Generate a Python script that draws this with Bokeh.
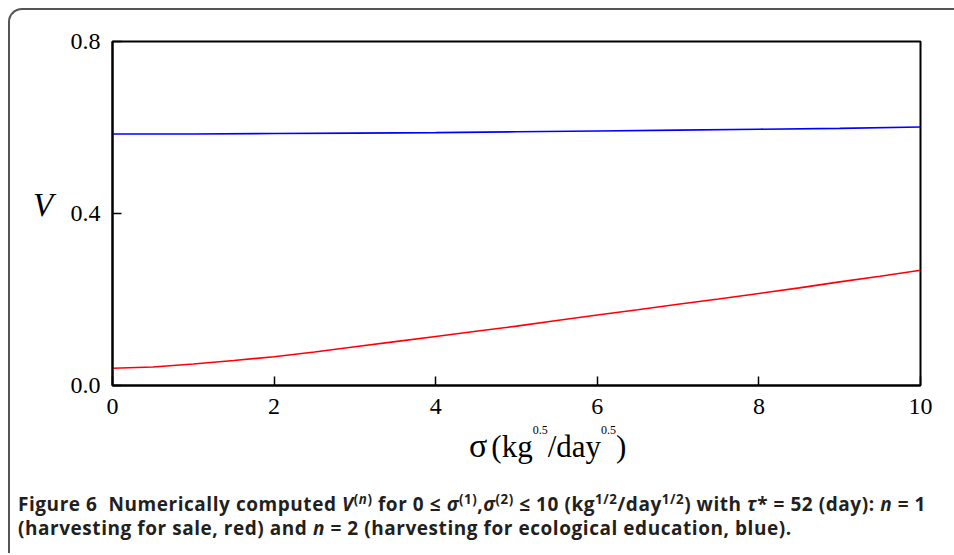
from bokeh.plotting import figure
from bokeh.models import Range1d, FixedTicker, Div, PrintfTickFormatter
from bokeh.layouts import column, row
from bokeh.embed import file_html
from bokeh.resources import INLINE

# ---- data ----
sigma_red = [0, 0.5, 1, 1.5, 2, 2.5, 3, 3.5, 4, 4.5, 5, 5.5, 6, 6.5, 7, 7.5, 8, 8.5, 9, 9.5, 10]
v_red = [0.040, 0.043, 0.050, 0.058, 0.067, 0.078, 0.090, 0.102, 0.114, 0.126, 0.138,
         0.151, 0.164, 0.176, 0.189, 0.201, 0.214, 0.227, 0.241, 0.254, 0.268]
sigma_blue = [0, 1, 2, 3, 4, 5, 6, 7, 8, 9, 10]
v_blue = [0.585, 0.585, 0.586, 0.587, 0.588, 0.590, 0.592, 0.594, 0.596, 0.598, 0.601]

x_ticks = [0, 2, 4, 6, 8, 10]
y_ticks = [0.0, 0.4, 0.8]

SERIF = "Liberation Serif"

p = figure(output_backend="svg", toolbar_location=None,
           frame_width=808, frame_height=344,
           x_range=Range1d(0, 10), y_range=Range1d(0, 0.8),
           min_border_left=46, min_border_right=34,
           min_border_top=31, min_border_bottom=44,
           background_fill_color="white", border_fill_color="white")
p.margin = 0
p.grid.visible = False
p.outline_line_color = "black"
p.outline_line_width = 2
p.outline_line_alpha = 1

for ax in (p.xaxis[0], p.yaxis[0]):
    ax.axis_line_width = 2
    ax.axis_line_color = "black"
    ax.major_tick_in = 9
    ax.major_tick_out = 0
    ax.major_tick_line_width = 1.5
    ax.major_tick_line_color = "black"
    ax.minor_tick_line_color = None
    ax.major_label_text_font = SERIF
    ax.major_label_text_font_size = "24px"
    ax.major_label_text_color = "black"

p.xaxis.ticker = FixedTicker(ticks=x_ticks)
p.yaxis.ticker = FixedTicker(ticks=y_ticks)
p.yaxis.formatter = PrintfTickFormatter(format="%.1f")
p.xaxis.major_label_standoff = 13
p.yaxis.major_label_standoff = 12

p.line(sigma_red, v_red, line_color="#ff0000", line_width=1.6)
p.line(sigma_blue, v_blue, line_color="#0000ff", line_width=1.6)

# y-axis label "V" (horizontal, italic serif) in a narrow column left of the plot
ylabel = Div(
    text='<i>V</i>', width=56, height=419, margin=0,
    styles={"font-family": "Liberation Serif", "font-size": "33px",
            "line-height": "40px", "color": "black", "white-space": "nowrap",
            "padding-left": "23px", "padding-top": "175px", "box-sizing": "border-box"})

sup = 'style="font-size:12px;line-height:0;vertical-align:23px;'
xlabel = Div(
    text=('<span style="font-size:34px;line-height:0">σ</span>'
          '<span style="margin-left:4px">(kg</span>'
          f'<span {sup}">0.5</span>'
          '<span>/day</span>'
          f'<span {sup}">0.5</span>'
          '<span>)</span>'),
    width=944, height=46, margin=0,
    styles={"font-family": "Liberation Serif", "font-size": "31px",
            "line-height": "36px", "color": "black", "white-space": "nowrap",
            "padding-left": "459px", "padding-top": "0px", "box-sizing": "border-box"})

s = 'style="line-height:0;font-size:70%"'
caption = Div(
    text=(f'Figure 6&nbsp; Numerically computed <i>V</i><sup {s}>(<i>n</i>)</sup> '
          f'for 0 ≤ <i>σ</i><sup {s}>(1)</sup>,<i>σ</i><sup {s}>(2)</sup> ≤ 10 '
          f'(kg<sup {s}>1/2</sup>/day<sup {s}>1/2</sup>) '
          'with <i>τ</i>* = 52 (day): <i>n</i> = 1<br>'
          '(harvesting for sale, red) and <i>n</i> = 2 (harvesting for ecological education, blue).'),
    width=944, height=78, margin=0,
    styles={"font-family": "Open Sans", "font-weight": "bold", "font-size": "19px",
            "letter-spacing": "0.55px",
            "line-height": "24px", "color": "#231f20", "white-space": "nowrap",
            "padding-left": "8px", "padding-top": "17px", "box-sizing": "border-box"})

layout = column(row(ylabel, p, spacing=0), xlabel, caption, spacing=0,
                styles={"border-top": "2px solid #555555",
                        "border-left": "2px solid #555555",
                        "border-top-left-radius": "14px",
                        "background-color": "white"})
layout.margin = (8, 0, 0, 8)

open("out.html", "w").write(file_html(layout, INLINE))
